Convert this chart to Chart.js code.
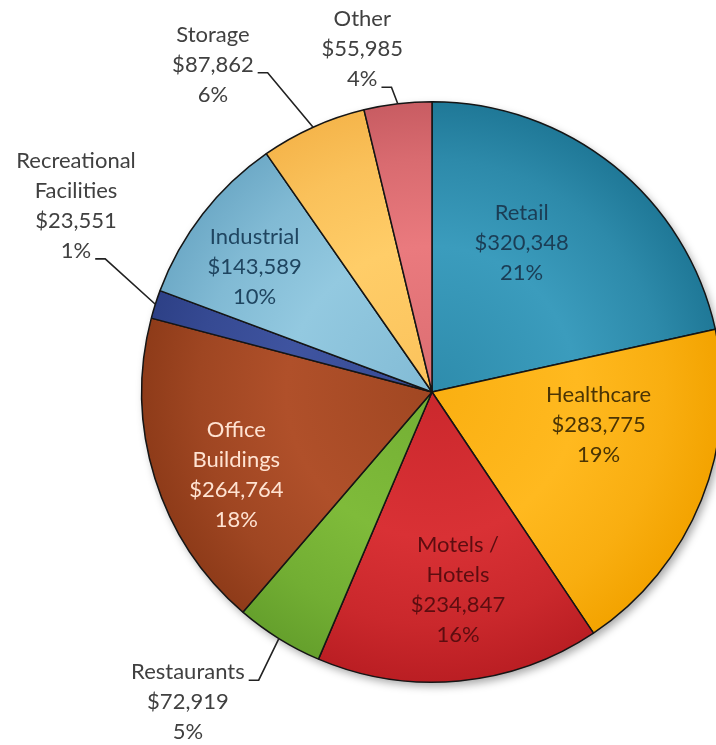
<!DOCTYPE html>
<html>
<head>
<meta charset="utf-8">
<script src="https://cdn.jsdelivr.net/npm/chart.js@4/dist/chart.umd.min.js"></script>
<style>
  html, body { margin: 0; padding: 0; background: #fff; overflow: hidden; }
  #wrap { width: 716px; height: 745px; overflow: hidden; position: relative; }
  canvas { display: block; }
</style>
</head>
<body>
<div id="wrap"><canvas id="pieChart" width="740" height="745"></canvas></div>
<script>
// Chart data
const categories = ['Retail', 'Healthcare', 'Motels / Hotels', 'Restaurants', 'Office Buildings',
    'Recreational Facilities', 'Industrial', 'Storage', 'Other'];
const categoryLines = [['Retail'], ['Healthcare'], ['Motels /', 'Hotels'], ['Restaurants'], ['Office', 'Buildings'],
    ['Recreational', 'Facilities'], ['Industrial'], ['Storage'], ['Other']];
const values = [320348, 283775, 234847, 72919, 264764, 23551, 143589, 87862, 55985];
const percentLabels = ['21%', '19%', '16%', '5%', '18%', '1%', '10%', '6%', '4%'];

// Slice colours: light middle, dark rim
const lightColors = ['#3b9cbd', '#ffb91f', '#d93135', '#7fbb3a', '#b0502a', '#3f54a0', '#93c9e0', '#ffcd68', '#ea7a7e'];
const darkColors = ['#1f7897', '#f3a300', '#ba1e23', '#65a02c', '#8e3b19', '#2d4086', '#6eaac7', '#f5b54b', '#c85c62'];
const textColors = ['#1b3d55', '#4a3405', '#5c0d10', '#404040', '#ffe3d2', '#404040', '#1f4560', '#404040', '#404040'];

// Label placement: angle (deg, clockwise from top), distance as fraction of radius
const labelAngle = [31.1, 101.2, 172.5, 218.2, 247.05, 297.6, 305.1, 326.2, 348.5];
const labelRadius = [0.598, 0.585, 0.686, 1.36, 0.732, 1.384, 0.747, 1.357, 1.205];
const leaderLine = [-1, -1, -1, 0, -1, 3, -1, 1, 2]; // -1 = inside label

const FONT = '22px Lato, "Open Sans", sans-serif';
const LINE_H = 30;

function money(v) {
    return '$' + v.toLocaleString('en-US');
}

function mix(a, b, t) {
    const pa = [1, 3, 5].map(k => parseInt(a.substr(k, 2), 16));
    const pb = [1, 3, 5].map(k => parseInt(b.substr(k, 2), 16));
    return 'rgb(' + pa.map((v, k) => Math.round(v + (pb[k] - v) * t)).join(',') + ')';
}

function sliceFill(context) {
    const i = context.dataIndex;
    const chart = context.chart;
    const area = chart.chartArea;
    if (!area) return lightColors[i];
    const cx = (area.left + area.right) / 2;
    const cy = (area.top + area.bottom) / 2;
    const r = Math.min(area.right - area.left, area.bottom - area.top) / 2;
    const g = chart.ctx.createRadialGradient(cx, cy, 0, cx, cy, r);
    g.addColorStop(0, mix(lightColors[i], darkColors[i], 0.45));
    g.addColorStop(0.5, lightColors[i]);
    g.addColorStop(0.8, mix(lightColors[i], darkColors[i], 0.5));
    g.addColorStop(1, darkColors[i]);
    return g;
}

// Soft shadow behind the pie
const shadowPlugin = {
    id: 'pieShadow',
    beforeDatasetsDraw(chart) {
        const arc = chart.getDatasetMeta(0).data[0];
        if (!arc) return;
        const c = chart.ctx;
        c.save();
        c.shadowColor = 'rgba(0,0,0,0.35)';
        c.shadowBlur = 9;
        c.shadowOffsetX = 3;
        c.shadowOffsetY = 4;
        c.fillStyle = '#fff';
        c.beginPath();
        c.arc(arc.x, arc.y, arc.outerRadius, 0, Math.PI * 2);
        c.fill();
        c.restore();
    }
};

// Text labels and leader lines
const labelPlugin = {
    id: 'sliceLabels',
    afterDatasetsDraw(chart) {
        const c = chart.ctx;
        const arcs = chart.getDatasetMeta(0).data;
        c.save();
        c.font = FONT;
        c.textAlign = 'center';
        c.textBaseline = 'middle';
        arcs.forEach((arc, i) => {
            const r = arc.outerRadius;
            const a = (labelAngle[i] - 90) * Math.PI / 180;
            const tx = arc.x + Math.cos(a) * r * labelRadius[i];
            const ty = arc.y + Math.sin(a) * r * labelRadius[i];
            const lines = categoryLines[i].concat([money(values[i]), percentLabels[i]]);
            const top = ty - (lines.length - 1) * LINE_H / 2;
            c.fillStyle = textColors[i];
            lines.forEach((t, k) => c.fillText(t, tx, top + k * LINE_H));

            if (leaderLine[i] >= 0) {
                const k = leaderLine[i];
                const w = c.measureText(lines[k]).width;
                const sx = tx + w / 2 + 4;
                const sy = top + k * LINE_H + 8;
                const mid = (arc.startAngle + arc.endAngle) / 2;
                const ex = arc.x + Math.cos(mid) * r;
                const ey = arc.y + Math.sin(mid) * r;
                c.strokeStyle = '#222';
                c.lineWidth = 1.6;
                c.beginPath();
                c.moveTo(sx, sy);
                c.lineTo(sx + 10, sy);
                c.lineTo(ex, ey);
                c.stroke();
            }
        });
        c.restore();
    }
};

const ctx = document.getElementById('pieChart').getContext('2d');
const pieChart = new Chart(ctx, {
    type: 'pie',
    data: {
        labels: categories,
        datasets: [{
            data: values,
            backgroundColor: sliceFill,
            borderColor: '#151515',
            borderWidth: 1.5,
        }],
    },
    options: {
        responsive: false,
        animation: false,
        devicePixelRatio: 1,
        layout: {
            padding: { left: 141, right: 17, top: 101, bottom: 62 },
        },
        plugins: {
            legend: { display: false },
            tooltip: { enabled: false },
        },
    },
    plugins: [shadowPlugin, labelPlugin],
});
</script>
</body>
</html>
